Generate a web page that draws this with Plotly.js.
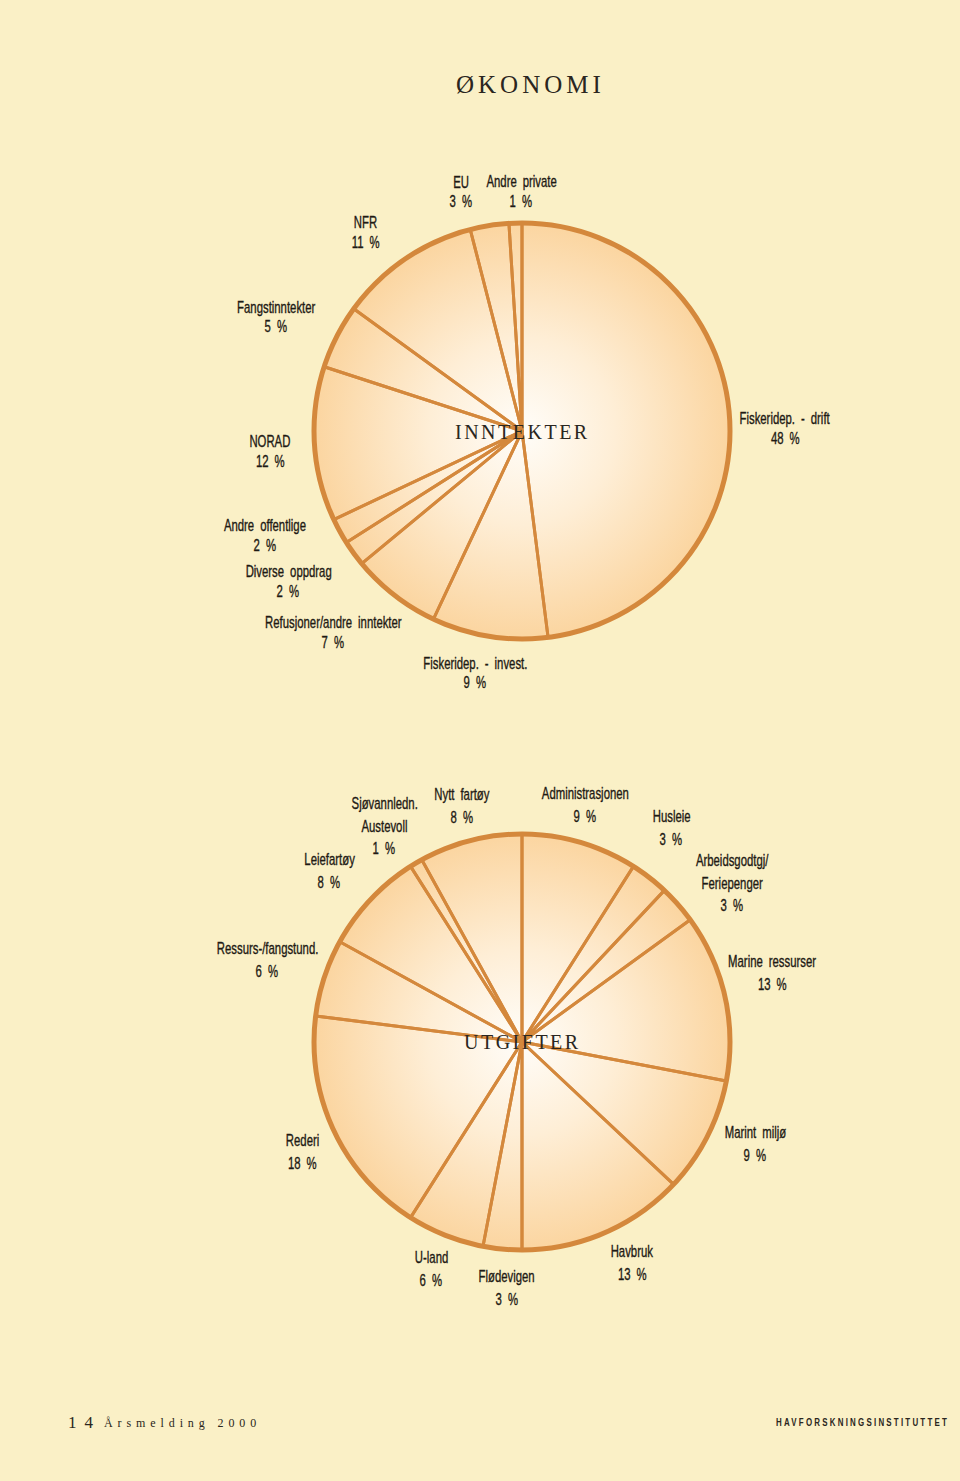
<!DOCTYPE html>
<html>
<head>
<meta charset="utf-8">
<script src="https://cdn.plot.ly/plotly-3.0.1.min.js"></script>
<style>
html,body{margin:0;padding:0;background:#faf0c6;}
#chart{width:960px;height:1481px;}
</style>
</head>
<body>
<div id="chart"></div>
<script>
// ---- Data ----
const inntektLabels = ["Fiskeridep. - drift", "Fiskeridep. - invest.", "Refusjoner/andre inntekter", "Diverse oppdrag", "Andre offentlige", "NORAD", "Fangstinntekter", "NFR", "EU", "Andre private"];
const inntektValues = [48, 9, 7, 2, 2, 12, 5, 11, 3, 1];

const utgiftLabels = ["Administrasjonen", "Husleie", "Arbeidsgodtgj/|Feriepenger", "Marine ressurser", "Marint miljø", "Havbruk", "Flødevigen", "U-land", "Rederi", "Ressurs-/fangstund.", "Leiefartøy", "Sjøvannledn.|Austevoll", "Nytt fartøy"];
const utgiftValues = [9, 3, 3, 13, 9, 13, 3, 6, 18, 6, 8, 1, 8];

const pageTitle = "ØKONOMI";
const inntektTitle = "INNTEKTER";
const utgiftTitle = "UTGIFTER";
const footerLeftNum = "14";
const footerLeftText = "Årsmelding 2000";
const footerRight = "HAVFORSKNINGSINSTITUTTET";

// ---- Layout positions (pixels) ----
const W = 960, H = 1481;
const px = x => x / W;
const py = y => 1 - y / H;

const inntektPos = [[785,428],[475,673],[333,632],[288,581],[265,535],[270,452],[276,317],[365,232],[461,192],[521,191]];
const utgiftPos = [[585,805],[671,828],[732,883],[772,973],[755,1144],[632,1263],[507,1288],[431,1269],[302,1152],[267,960],[329,871],[384,826],[462,806]];

const pie1 = {cx: 522, cy: 431, r: 208};
const pie2 = {cx: 522, cy: 1042, r: 208};

const lineCol = '#d4883c';
const bg = '#faf0c6';
const sansFont = '"Liberation Sans", Arial, sans-serif';
const labelFont = {family: sansFont, size: 16, color: '#1e1a14'};
const labelSqueeze = 0.71;

function domainOf(p){
  return {x: [px(p.cx - p.r), px(p.cx + p.r)], y: [py(p.cy + p.r), py(p.cy - p.r)]};
}

function pieTrace(labels, values, p){
  return {
    type: 'pie',
    labels: labels.map(l => l.replace('|', ' ')),
    values: values,
    sort: false,
    direction: 'clockwise',
    rotation: 0,
    textinfo: 'none',
    hoverinfo: 'skip',
    showlegend: false,
    domain: domainOf(p),
    marker: {colors: values.map(() => 'rgba(0,0,0,0)'), line: {color: lineCol, width: 3}}
  };
}

const annotations = [];
const squeeze = [];   // per-annotation horizontal squeeze (condensed look)
function addAnn(a, sx, origin, extra){ annotations.push(a); squeeze.push(sx ? [sx, origin || 'center', extra || false] : null); }

function labelAnnotations(labels, values, pos, lh){
  labels.forEach((l, i) => {
    const lines = l.split('|').concat([values[i] + ' %']);
    const n = lines.length;
    lines.forEach((t, j) => {
      const y = pos[i][1] + (j - (n - 1) / 2) * lh;
      addAnn({x: px(pos[i][0]), y: py(y), xref: 'paper', yref: 'paper', text: t, showarrow: false,
        xanchor: 'center', yanchor: 'middle', font: labelFont}, labelSqueeze, 'center', true);
    });
  });
}

const gradSvg = "<svg xmlns='http://www.w3.org/2000/svg' width='200' height='200'><defs><radialGradient id='g' cx='50%' cy='50%' r='50%'><stop offset='0' stop-color='#fffdf9'/><stop offset='0.45' stop-color='#feeed6'/><stop offset='1' stop-color='#fbd5a0'/></radialGradient></defs><circle cx='100' cy='100' r='100' fill='url(#g)'/></svg>";
const gradSrc = 'data:image/svg+xml;charset=utf-8,' + encodeURIComponent(gradSvg);

function gradImage(p){
  return {source: gradSrc, xref: 'paper', yref: 'paper', x: px(p.cx - p.r), y: py(p.cy - p.r),
    sizex: px(2 * p.r), sizey: 2 * p.r / H, xanchor: 'left', yanchor: 'top', sizing: 'stretch', layer: 'below'};
}
function ring(p){
  return {type: 'circle', xref: 'paper', yref: 'paper', x0: px(p.cx - p.r), x1: px(p.cx + p.r),
    y0: py(p.cy + p.r), y1: py(p.cy - p.r), line: {color: lineCol, width: 5}, fillcolor: 'rgba(0,0,0,0)'};
}

const spaced = (t, s) => '<span style="letter-spacing:' + s + 'px">' + t + '</span>';
const serif = '"Liberation Serif", "Times New Roman", serif';

labelAnnotations(inntektLabels, inntektValues, inntektPos, 20);
labelAnnotations(utgiftLabels, utgiftValues, utgiftPos, 22.5);

addAnn({x: px(530), y: py(84), xref: 'paper', yref: 'paper', text: spaced(pageTitle, 4), showarrow: false,
  xanchor: 'center', yanchor: 'middle', font: {family: serif, size: 25, color: '#2a2620'}});
addAnn({x: px(522), y: py(432), xref: 'paper', yref: 'paper', text: spaced(inntektTitle, 2.5), showarrow: false,
  xanchor: 'center', yanchor: 'middle', font: {family: serif, size: 20, color: '#2a2620'}});
addAnn({x: px(522), y: py(1042), xref: 'paper', yref: 'paper', text: spaced(utgiftTitle, 2.5), showarrow: false,
  xanchor: 'center', yanchor: 'middle', font: {family: serif, size: 20, color: '#2a2620'}});
addAnn({x: px(66), y: py(1422), xref: 'paper', yref: 'paper', text: spaced(footerLeftNum, 8), showarrow: false,
  xanchor: 'left', yanchor: 'middle', font: {family: serif, size: 17, color: '#2a2620'}});
addAnn({x: px(102), y: py(1423), xref: 'paper', yref: 'paper', text: spaced(footerLeftText, 4.9), showarrow: false,
  xanchor: 'left', yanchor: 'middle', font: {family: serif, size: 12, color: '#2a2620'}});
addAnn({x: px(774), y: py(1422), xref: 'paper', yref: 'paper', text: '<b>' + spaced(footerRight, 3.1) + '</b>', showarrow: false,
  xanchor: 'left', yanchor: 'middle', font: {family: sansFont, size: 11, color: '#2a2620'}}, 0.72, 'left center');

const layout = {
  width: W, height: H,
  margin: {l: 0, r: 0, t: 0, b: 0},
  paper_bgcolor: bg, plot_bgcolor: bg,
  showlegend: false,
  images: [gradImage(pie1), gradImage(pie2)],
  shapes: [ring(pie1), ring(pie2)],
  annotations: annotations
};

Plotly.newPlot('chart', [pieTrace(inntektLabels, inntektValues, pie1), pieTrace(utgiftLabels, utgiftValues, pie2)], layout,
  {displayModeBar: false, staticPlot: true}).then(gd => {
  gd.querySelectorAll('g.annotation').forEach(g => {
    const i = +g.getAttribute('data-index');
    const s = squeeze[i];
    if (!s) return;
    const t = g.querySelector('text.annotation-text');
    if (!t) return;
    if (s[2]) {
      t.style.wordSpacing = '4px';
      t.style.stroke = '#1e1a14';
      t.style.strokeWidth = '0.35px';
    }
    t.style.transformBox = 'fill-box';
    t.style.transformOrigin = s[1];
    t.style.transform = 'scaleX(' + s[0] + ')';
  });
});
</script>
</body>
</html>
